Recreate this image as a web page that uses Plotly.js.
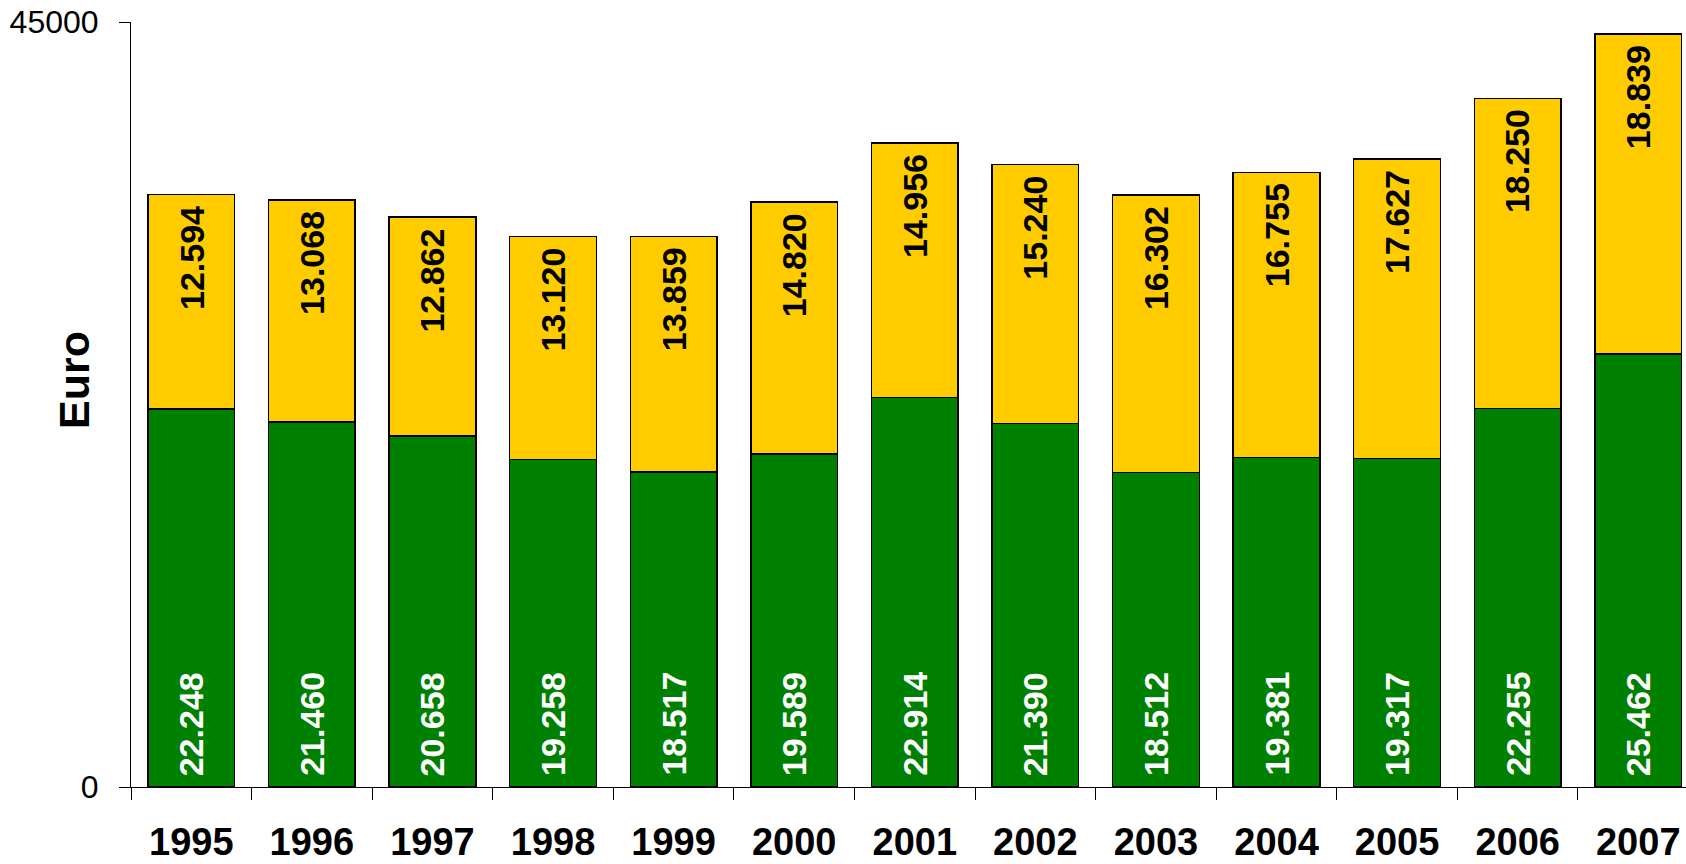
<!DOCTYPE html>
<html>
<head>
<meta charset="utf-8">
<script src="https://cdn.plot.ly/plotly-3.0.1.min.js"></script>
<style>html,body{margin:0;padding:0;background:#fff;}#chart{width:1686px;height:864px;}</style>
</head>
<body>
<div id="chart"></div>
<script>
const years = ['1995','1996','1997','1998','1999','2000','2001','2002','2003','2004','2005','2006','2007'];
const greenValues = [22248, 21460, 20658, 19258, 18517, 19589, 22914, 21390, 18512, 19381, 19317, 22255, 25462];
const yellowValues = [12594, 13068, 12862, 13120, 13859, 14820, 14956, 15240, 16302, 16755, 17627, 18250, 18839];
const yTickValues = [0, 45000];
const yTickLabels = ['0', '45000'];
const yAxisTitle = 'Euro';

function fmt(v) {
  return String(v).replace(/\B(?=(\d{3})+(?!\d))/g, '.');
}

const FONT = 'Arial, "Liberation Sans", sans-serif';
const W = 1686, H = 864;
const mL = 131, mR = 0, mT = 22, mB = 77;
const plotW = W - mL - mR;
const catStep = 120.58;
const xEnd = -0.5 + plotW / catStep;

const traces = [
  {
    type: 'bar', x: years, y: greenValues, name: 'green',
    marker: {color: '#008000', line: {color: '#000000', width: 1.5}},
    hoverinfo: 'skip'
  },
  {
    type: 'bar', x: years, y: yellowValues, name: 'yellow',
    marker: {color: '#FFCC00', line: {color: '#000000', width: 1.5}},
    hoverinfo: 'skip'
  }
];

const annotations = [];
years.forEach((yr, i) => {
  annotations.push({
    x: i, y: 0, xref: 'x', yref: 'y', text: '<b>' + fmt(greenValues[i]) + '</b>',
    showarrow: false, textangle: -90, xanchor: 'center', yanchor: 'bottom', yshift: 9,
    font: {family: FONT, size: 34, color: '#ffffff'}
  });
  annotations.push({
    x: i, y: greenValues[i] + yellowValues[i], xref: 'x', yref: 'y', text: '<b>' + fmt(yellowValues[i]) + '</b>',
    showarrow: false, textangle: -90, xanchor: 'center', yanchor: 'top', yshift: -9,
    font: {family: FONT, size: 34, color: '#000000'}
  });
});
annotations.push({
  xref: 'paper', yref: 'paper', x: (74 - mL) / plotW, y: 0.532,
  text: '<b>' + yAxisTitle + '</b>', showarrow: false, textangle: -90,
  xanchor: 'center', yanchor: 'middle',
  font: {family: FONT, size: 43, color: '#000000'}
});

const layout = {
  width: W, height: H,
  margin: {l: mL, r: mR, t: mT, b: mB, pad: 0},
  paper_bgcolor: '#ffffff', plot_bgcolor: '#ffffff',
  barmode: 'stack', bargap: 0.281,
  showlegend: false,
  font: {family: FONT, color: '#000000'},
  xaxis: {
    type: 'category', range: [-0.5, xEnd],
    showline: true, linecolor: '#000000', linewidth: 1,
    ticks: 'outside', tickson: 'boundaries', ticklen: 12, tickcolor: '#000000', tickwidth: 1,
    showgrid: false, zeroline: false,
    tickfont: {family: FONT, size: 38, color: '#000000', weight: 'bold'},
    ticklabelstandoff: 21
  },
  yaxis: {
    range: [0, 45000],
    tickmode: 'array', tickvals: yTickValues, ticktext: yTickLabels,
    showline: true, linecolor: '#000000', linewidth: 1,
    ticks: 'outside', ticklen: 11, tickcolor: '#000000', tickwidth: 1,
    showgrid: false, zeroline: false,
    tickfont: {family: FONT, size: 32, color: '#000000'},
    ticklabelstandoff: 14
  },
  annotations: annotations
};

Plotly.newPlot('chart', traces, layout, {staticPlot: true, displayModeBar: false});
</script>
</body>
</html>
